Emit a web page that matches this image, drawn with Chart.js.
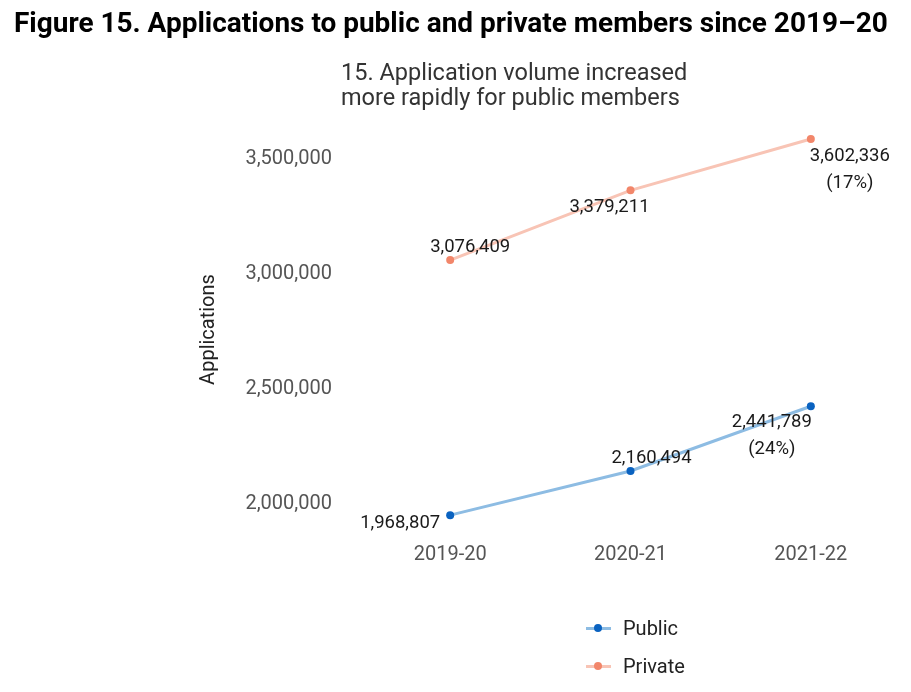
<!DOCTYPE html>
<html>
<head>
<meta charset="utf-8">
<script src="https://cdn.jsdelivr.net/npm/chart.js@4.4.1/dist/chart.umd.min.js"></script>
<style>
  body { margin: 0; background: #fff; }
  #wrap { position: relative; width: 911px; height: 692px; }
  #fig { position: absolute; left: 14px; top: 6px; font-family: Roboto, sans-serif; font-weight: bold; font-size: 28px; color: #000; white-space: nowrap; transform-origin: 0 0; }
  #sub { position: absolute; left: 341px; top: 60px; font-family: Roboto, sans-serif; font-size: 23.5px; line-height: 25px; color: #333; }
  #legend { position: absolute; left: 586px; top: 609px; font-family: Roboto, sans-serif; font-size: 20px; color: #222; }
  .item { display: flex; align-items: center; height: 38px; }
  .mk { position: relative; width: 25px; height: 10px; margin-right: 12px; }
  .mk .ln { position: absolute; left: 0; right: 0; top: 3.5px; height: 3px; }
  .mk .dt { position: absolute; left: 8px; top: 1px; width: 8px; height: 8px; border-radius: 50%; }
  #chart { position: absolute; left: 0; top: 0; }
</style>
</head>
<body>
<div id="wrap">
  <canvas id="chart" width="911" height="692"></canvas>
  <div id="fig">Figure 15. Applications to public and private members since 2019–20</div>
  <div id="sub">15. Application volume increased<br>more rapidly for public members</div>
  <div id="legend"></div>
</div>
<script>
// Chart data
const years = ["2019-20", "2020-21", "2021-22"];
const publicApps = [1968807, 2160494, 2441789];
const privateApps = [3076409, 3379211, 3602336];
const publicPct = ["", "", "(24%)"];
const privatePct = ["", "", "(17%)"];
const yTicks = [2000000, 2500000, 3000000, 3500000];

const fmt = (v) => v.toLocaleString("en-US");

// Squeeze the figure heading to its width in the original
const fig = document.getElementById("fig");
fig.style.transform = `scaleX(${874 / fig.scrollWidth})`;

// Draws the value labels next to each point
const valueLabels = {
  id: "valueLabels",
  afterDatasetsDraw(chart, args, opts) {
    const ctx = chart.ctx;
    ctx.save();
    ctx.font = opts.font;
    ctx.fillStyle = opts.color;
    ctx.textAlign = "center";
    ctx.textBaseline = "middle";
    chart.data.datasets.forEach((ds, di) => {
      const meta = chart.getDatasetMeta(di);
      meta.data.forEach((pt, i) => {
        const off = opts.offsets[di][i];
        const lines = [fmt(ds.data[i])];
        if (ds.pct[i]) lines.push(ds.pct[i]);
        lines.forEach((t, li) => ctx.fillText(t, pt.x + off[0], pt.y + off[1] + li * opts.lineGap));
      });
    });
    ctx.restore();
  }
};

const chart = new Chart(document.getElementById("chart"), {
  type: "line",
  data: {
    labels: years,
    datasets: [
      { label: "Public", data: publicApps, pct: publicPct, borderColor: "#8dbce3", pointBackgroundColor: "#0a62c0", pointBorderWidth: 0, pointRadius: 4, borderWidth: 3 },
      { label: "Private", data: privateApps, pct: privatePct, borderColor: "#f8c4b5", pointBackgroundColor: "#f2866a", pointBorderWidth: 0, pointRadius: 4, borderWidth: 3 }
    ]
  },
  options: {
    responsive: false,
    animation: false,
    devicePixelRatio: 1,
    layout: { padding: { left: 197, right: 10, top: 128, bottom: 121 } },
    plugins: {
      legend: { display: false },
      tooltip: { enabled: false },
      valueLabels: {
        font: "18.5px Roboto",
        color: "#1a1a1a",
        lineGap: 27.5,
        offsets: [
          [[-50, 8], [21, -13], [-39, 16]],
          [[20, -13], [-21, 17], [39, 17]]
        ]
      }
    },
    scales: {
      x: {
        offset: true,
        grid: { display: false, drawTicks: false },
        border: { display: false },
        ticks: { color: "#555", font: { family: "Roboto", size: 20 }, padding: 12 },
        afterFit: (s) => { s.height = 40; }
      },
      y: {
        min: 1900000,
        max: 3650000,
        grid: { display: false, drawTicks: false },
        border: { display: false },
        afterBuildTicks: (s) => { s.ticks = yTicks.map((v) => ({ value: v })); },
        afterFit: (s) => { s.width = 163; },
        ticks: { color: "#555", font: { family: "Roboto", size: 20 }, padding: 28, labelOffset: -4, callback: (v) => fmt(v) },
        title: { display: true, text: "Applications", color: "#222", font: { family: "Roboto", size: 20 }, padding: 0 }
      }
    }
  },
  plugins: [valueLabels]
});

// HTML legend built from the datasets
const legendEl = document.getElementById("legend");
chart.data.datasets.forEach((ds) => {
  const item = document.createElement("div");
  item.className = "item";
  item.innerHTML = `<span class="mk"><span class="ln" style="background:${ds.borderColor}"></span><span class="dt" style="background:${ds.pointBackgroundColor}"></span></span><span>${ds.label}</span>`;
  legendEl.appendChild(item);
});
</script>
</body>
</html>
